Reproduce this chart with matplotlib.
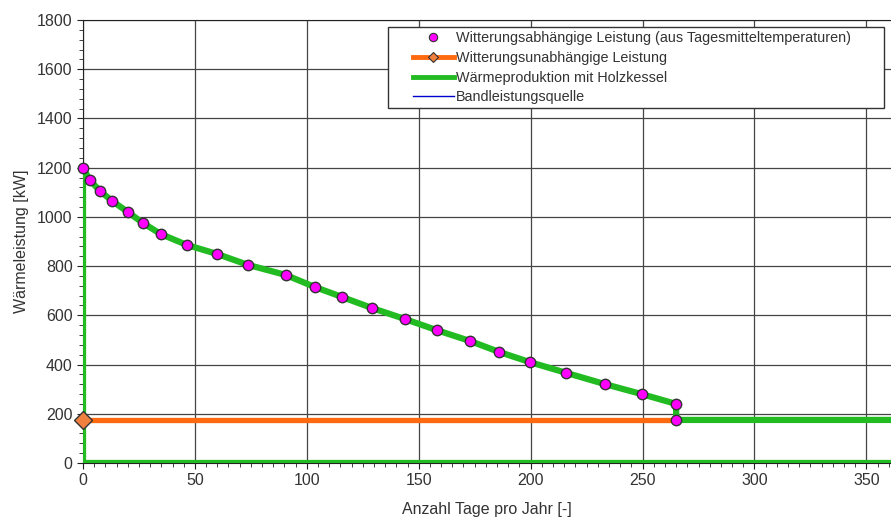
import numpy as np
import matplotlib.pyplot as plt
from matplotlib.ticker import MultipleLocator
from matplotlib.lines import Line2D
from matplotlib.patches import Rectangle

plt.rcParams['font.family'] = ['Liberation Sans', 'DejaVu Sans']

# Witterungsabhängige Leistung (Tage, kW)
tage = [0, 3, 7.6, 13, 20, 26.8, 34.8, 46.4, 60, 73.7, 90.6, 103.6, 115.6, 129,
        143.8, 158, 172.8, 186, 199.6, 216, 233, 249.6, 265, 265]
leistung = [1200, 1150, 1105, 1065, 1020, 975, 930, 886, 849, 805, 764, 715, 675,
            630, 585, 540, 496, 451, 410, 366, 321, 280, 240, 175]

# Witterungsunabhängige Leistung
band_x = [0, 265]
band_y = [175, 175]

# Wärmeproduktion mit Holzkessel
holz_x = [365, 0, 0] + tage[:-1] + [265, 365]
holz_y = [0, 0, 1200] + leistung[:-1] + [175, 175]

# Bandleistungsquelle
quelle_x = [0, 365]
quelle_y = [0, 0]

labels = ['Witterungsabhängige Leistung (aus Tagesmitteltemperaturen)',
          'Witterungsunabhängige Leistung',
          'Wärmeproduktion mit Holzkessel',
          'Bandleistungsquelle']

green = '#22BB22'
orange = '#FF6A10'
magenta = '#FF00FF'
edge = '#333333'

fig = plt.figure(figsize=(8.91, 5.27), dpi=100)
ax = fig.add_axes([83 / 891, 1 - 463 / 527, 1 - 83 / 891, 443 / 527])

ax.plot(quelle_x, quelle_y, color='#0000CC', lw=1.2, zorder=2)
ax.plot(holz_x, holz_y, color=green, lw=4.5, zorder=3,
        solid_joinstyle='round')
ax.plot(band_x, band_y, color=orange, lw=3.8, zorder=4, marker='D',
        markevery=[0], markersize=9, markerfacecolor='#F08040',
        markeredgecolor=edge, markeredgewidth=1, clip_on=False)
ax.plot(tage, leistung, ls='none', marker='o', markersize=7.5,
        markerfacecolor=magenta, markeredgecolor=edge,
        markeredgewidth=1, zorder=5, clip_on=False)

ax.set_xlim(0, 361)
ax.set_ylim(0, 1800)
ax.xaxis.set_major_locator(MultipleLocator(50))
ax.xaxis.set_minor_locator(MultipleLocator(5))
ax.yaxis.set_major_locator(MultipleLocator(200))
ax.yaxis.set_minor_locator(MultipleLocator(40))
ax.tick_params(which='both', direction='out', colors='#222222',
               labelcolor='#333333', labelsize=11.5)
ax.tick_params(which='major', length=4)
ax.tick_params(which='minor', length=3)
ax.grid(True, which='major', color='#444444', lw=0.9)
ax.set_axisbelow(True)
ax.spines['right'].set_visible(False)
for s in ['left', 'bottom', 'top']:
    ax.spines[s].set_color('#222222')

ax.set_xlabel('Anzahl Tage pro Jahr [-]', fontsize=11.5, color='#333333', labelpad=10)
ax.set_ylabel('Wärmeleistung [kW]', fontsize=11.5, color='#333333', labelpad=6)

# legend with proxy handles, frame drawn separately
handles = [
    Line2D([], [], ls='none', marker='o', markersize=6, markerfacecolor=magenta,
           markeredgecolor=edge, markeredgewidth=0.8),
    Line2D([], [], color=orange, lw=3.5, marker='D', markersize=5.5,
           markerfacecolor='#F08040', markeredgecolor=edge, markeredgewidth=0.8),
    Line2D([], [], color=green, lw=3.5),
    Line2D([], [], color='#0000CC', lw=1),
]
frame = Rectangle((388 / 891, 1 - 108 / 527), 496 / 891, 81 / 527,
                  transform=fig.transFigure, facecolor='white',
                  edgecolor='#333333', lw=1, zorder=6, clip_on=False)
ax.add_patch(frame)
leg = ax.legend(handles, labels, loc='upper left',
                bbox_to_anchor=(411 / 891, 1 - 29 / 527),
                bbox_transform=fig.transFigure, fontsize=10.4, frameon=False,
                borderpad=0.15, labelspacing=0.4, handlelength=2.8,
                handletextpad=0.15, borderaxespad=0)
leg.set_zorder(7)
for t in leg.get_texts():
    t.set_color('#333333')

fig.savefig('out.png', dpi=100)
